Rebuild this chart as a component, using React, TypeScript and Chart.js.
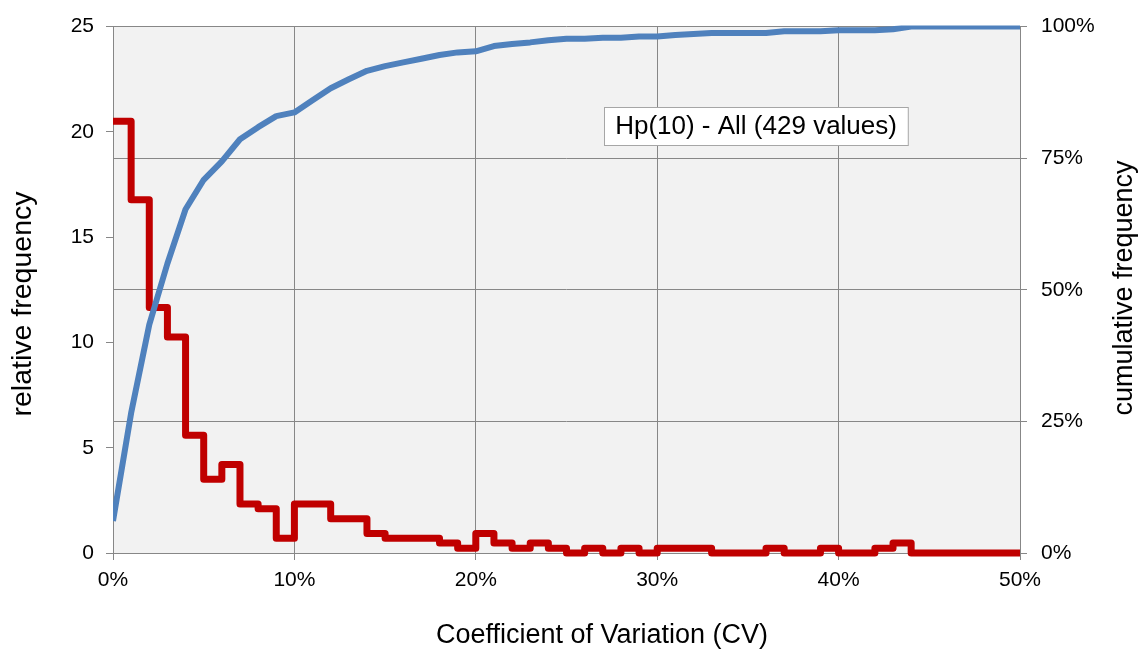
import React, { useEffect, useRef } from "react";
import { Chart, registerables } from "chart.js";

Chart.register(...registerables);

// Bin starts (CV in %), one bin per 1 %
const binStarts = [
  0, 1, 2, 3, 4, 5, 6, 7, 8, 9,
  10, 11, 12, 13, 14, 15, 16, 17, 18, 19,
  20, 21, 22, 23, 24, 25, 26, 27, 28, 29,
  30, 31, 32, 33, 34, 35, 36, 37, 38, 39,
  40, 41, 42, 43, 44, 45, 46, 47, 48, 49,
  50,
];

// Relative frequency (%) per 1 % bin
const relativeFrequency = [
  20.51, 16.78, 11.66, 10.26, 5.59, 3.5, 4.2, 2.33, 2.1, 0.7,
  2.33, 2.33, 1.63, 1.63, 0.93, 0.7, 0.7, 0.7, 0.47, 0.23,
  0.93, 0.47, 0.23, 0.47, 0.23, 0, 0.23, 0, 0.23, 0,
  0.23, 0.23, 0.23, 0, 0, 0, 0.23, 0, 0, 0.23,
  0, 0, 0.23, 0.47, 0, 0, 0, 0, 0, 0,
];

// Cumulative frequency (%) at each bin start
const cumulativeFrequency = [
  6.1, 26.6, 43.4, 55.0, 65.3, 70.9, 74.4, 78.6, 80.9, 83.0,
  83.7, 86.0, 88.3, 90.0, 91.6, 92.5, 93.2, 93.9, 94.6, 95.1,
  95.3, 96.3, 96.7, 97.0, 97.4, 97.7, 97.7, 97.9, 97.9, 98.1,
  98.1, 98.4, 98.6, 98.8, 98.8, 98.8, 98.8, 99.1, 99.1, 99.1,
  99.3, 99.3, 99.3, 99.5, 100, 100, 100, 100, 100, 100,
  100,
];

const xTickValues = [0, 10, 20, 30, 40, 50];
const leftTickValues = [0, 5, 10, 15, 20, 25];
const rightTickValues = [0, 25, 50, 75, 100];

const xTitle = "Coefficient of Variation (CV)";
const leftTitle = "relative frequency";
const rightTitle = "cumulative frequency";
const annotationText = "Hp(10) - All (429 values)";
const annotationX = 35.45; // CV %
const annotationY = 81.1; // cumulative %

const FONT = '"Liberation Sans", Arial, Helvetica, sans-serif';
const GRID = "#878787";
const RED = "#c00000";
const BLUE = "#4f81bd";

export default function App() {
  const canvasRef = useRef<HTMLCanvasElement | null>(null);

  useEffect(() => {
    const canvas = canvasRef.current;
    if (!canvas) return;

    const redData = relativeFrequency.map((v, i) => ({ x: binStarts[i], y: v }));
    redData.push({
      x: binStarts[binStarts.length - 1],
      y: relativeFrequency[relativeFrequency.length - 1],
    });
    const blueData = cumulativeFrequency.map((v, i) => ({ x: binStarts[i], y: v }));

    const background = {
      id: "plotBackground",
      beforeDraw(chart: any) {
        const { ctx, chartArea } = chart;
        ctx.save();
        ctx.fillStyle = "#f2f2f2";
        ctx.fillRect(
          chartArea.left,
          chartArea.top,
          chartArea.right - chartArea.left,
          chartArea.bottom - chartArea.top
        );
        ctx.restore();
      },
    };

    const titles = {
      id: "axisTitles",
      afterDraw(chart: any) {
        const { ctx } = chart;
        ctx.save();
        ctx.fillStyle = "#000";
        ctx.textBaseline = "alphabetic";
        ctx.textAlign = "center";
        ctx.font = `27px ${FONT}`;
        ctx.fillText(xTitle, 602, 643);

        ctx.save();
        ctx.font = `28.5px ${FONT}`;
        ctx.translate(31, 304);
        ctx.rotate(-Math.PI / 2);
        ctx.fillText(leftTitle, 0, 0);
        ctx.restore();

        ctx.save();
        ctx.translate(1132, 288);
        ctx.rotate(-Math.PI / 2);
        ctx.fillText(rightTitle, 0, 0);
        ctx.restore();
        ctx.restore();
      },
    };

    const annotation = {
      id: "annotationBox",
      afterDatasetsDraw(chart: any) {
        const { ctx, scales } = chart;
        const cx = scales.x.getPixelForValue(annotationX);
        const cy = scales.y1.getPixelForValue(annotationY);
        ctx.save();
        ctx.font = `26px ${FONT}`;
        const w = ctx.measureText(annotationText).width + 22;
        const h = 38;
        const left = Math.round(cx - w / 2) + 0.5;
        const top = Math.round(cy - h / 2) + 0.5;
        ctx.fillStyle = "#ffffff";
        ctx.fillRect(left, top, w, h);
        ctx.strokeStyle = "#a6a6a6";
        ctx.lineWidth = 1;
        ctx.strokeRect(left, top, w, h);
        ctx.fillStyle = "#000";
        ctx.textAlign = "center";
        ctx.textBaseline = "middle";
        ctx.fillText(annotationText, cx, cy + 1);
        ctx.restore();
      },
    };

    const chart = new Chart(canvas, {
      type: "line",
      data: {
        datasets: [
          {
            label: "cumulative frequency",
            data: blueData,
            yAxisID: "y1",
            borderColor: BLUE,
            borderWidth: 6,
            pointRadius: 0,
            tension: 0,
            fill: false,
            borderJoinStyle: "round",
            clip: { left: 0, top: 1, right: 0, bottom: 5 } as any,
            order: 0,
          },
          {
            label: "relative frequency",
            data: redData,
            yAxisID: "y",
            borderColor: RED,
            borderWidth: 7,
            pointRadius: 0,
            stepped: "before",
            fill: false,
            borderJoinStyle: "round",
            clip: { left: 0, top: 1, right: 0, bottom: 5 } as any,
            order: 1,
          },
        ],
      },
      options: {
        responsive: false,
        animation: false,
        layout: { padding: { top: 24, left: 0, right: 0, bottom: 0 } },
        plugins: {
          legend: { display: false },
          tooltip: { enabled: false },
        },
        scales: {
          x: {
            type: "linear",
            min: 0,
            max: 50,
            afterBuildTicks(scale: any) {
              scale.ticks = xTickValues.map((v) => ({ value: v }));
            },
            afterFit(scale: any) {
              scale.height = 98;
            },
            ticks: {
              autoSkip: false,
              maxRotation: 0,
              padding: 8,
              color: "#000",
              font: { family: FONT, size: 21 },
              callback: (v: any) => `${v}%`,
            },
            grid: {
              color: GRID,
              lineWidth: 1,
              tickLength: 7,
              drawOnChartArea: true,
            },
            border: { color: GRID, width: 1 },
          },
          y: {
            type: "linear",
            position: "left",
            min: 0,
            max: 25,
            afterBuildTicks(scale: any) {
              scale.ticks = leftTickValues.map((v) => ({ value: v }));
            },
            afterFit(scale: any) {
              scale.width = 113;
            },
            ticks: {
              padding: 12,
              color: "#000",
              font: { family: FONT, size: 21 },
            },
            grid: {
              color: GRID,
              lineWidth: 1,
              tickLength: 7,
              drawOnChartArea: false,
            },
            border: { color: GRID, width: 1 },
          },
          y1: {
            type: "linear",
            position: "right",
            min: 0,
            max: 100,
            afterBuildTicks(scale: any) {
              scale.ticks = rightTickValues.map((v) => ({ value: v }));
            },
            afterFit(scale: any) {
              scale.width = 120;
            },
            ticks: {
              padding: 14,
              color: "#000",
              font: { family: FONT, size: 21 },
              callback: (v: any) => `${v}%`,
            },
            grid: {
              color: GRID,
              lineWidth: 1,
              tickLength: 7,
              drawOnChartArea: true,
            },
            border: { color: GRID, width: 1 },
          },
        },
      },
      plugins: [background, annotation, titles],
    });

    return () => chart.destroy();
  }, []);

  return (
    <div style={{ position: "fixed", left: 0, top: 0, width: 1140, height: 651, background: "#fff" }}>
      <canvas ref={canvasRef} width={1140} height={651} style={{ display: "block" }} />
    </div>
  );
}
